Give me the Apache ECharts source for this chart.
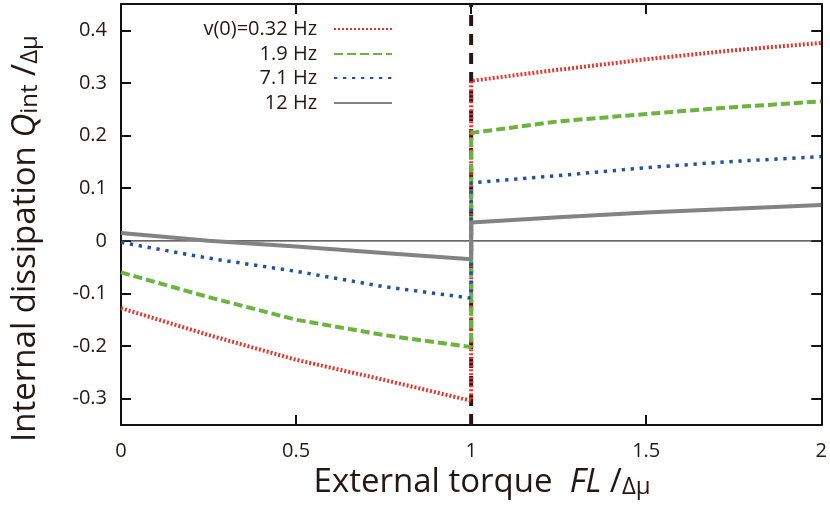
<!DOCTYPE html>
<html>
<head>
<meta charset="utf-8">
<script src="https://cdn.jsdelivr.net/npm/echarts@6/dist/echarts.min.js"></script>
<style>html,body{margin:0;padding:0;background:#fff;}#c{width:830px;height:511px;}</style>
</head>
<body>
<div id="c"></div>
<script>
const seriesNames = ['v(0)=0.32 Hz', '1.9 Hz', '7.1 Hz', '12 Hz'];
const xLeft = [0, 0.25, 0.5, 0.75, 1];
const xRight = [1, 1.25, 1.5, 1.75, 2];
const redLeft = [-0.128, -0.179, -0.226, -0.264, -0.304];
const redRight = [0.304, 0.325, 0.345, 0.362, 0.376];
const greenLeft = [-0.060, -0.107, -0.150, -0.179, -0.202];
const greenRight = [0.205, 0.227, 0.241, 0.254, 0.265];
const blueLeft = [-0.003, -0.033, -0.058, -0.087, -0.109];
const blueRight = [0.110, 0.124, 0.139, 0.151, 0.160];
const grayLeft = [0.015, 0.0, -0.011, -0.023, -0.035];
const grayRight = [0.035, 0.045, 0.054, 0.061, 0.068];
const xTicks = [0, 0.5, 1, 1.5, 2];
const yTicks = [-0.3, -0.2, -0.1, 0, 0.1, 0.2, 0.3, 0.4];
const xRange = [0, 2];
const yRange = [-0.35, 0.45];
const thresholdX = 1;

const FONT = 'Open Sans';
const TXT = '#231815';
function pts(xl, yl, xr, yr) {
  return xl.map((x, i) => [x, yl[i]]).concat(xr.map((x, i) => [x, yr[i]]));
}
const colors = ['#e8352c', '#6cb33f', '#1f52a3', '#838383'];
const styles = [
  {width: 4, type: [2, 2]},
  {width: 4, type: [9, 4]},
  {width: 3.5, type: [3.3, 5.7]},
  {width: 4, type: 'solid'}
];
const dataSets = [
  pts(xLeft, redLeft, xRight, redRight),
  pts(xLeft, greenLeft, xRight, greenRight),
  pts(xLeft, blueLeft, xRight, blueRight),
  pts(xLeft, grayLeft, xRight, grayRight)
];

const axisLineStyle = {onZero: false, lineStyle: {color: '#111', width: 2}};
const tickStyle = {inside: true, length: 10, lineStyle: {color: '#111', width: 2}};

const series = [
  {
    name: 'zero', type: 'line', data: [[xRange[0], 0], [xRange[1], 0]],
    symbol: 'none', silent: true, z: 1,
    lineStyle: {color: '#333', width: 1.2}
  },
  {
    name: 'threshold', type: 'line', data: [[thresholdX, yRange[0]], [thresholdX, yRange[1]]],
    symbol: 'none', silent: true, z: 1,
    lineStyle: {color: '#231815', width: 4, type: [11, 8]}
  }
];
seriesNames.forEach((n, i) => {
  series.push({
    name: n, type: 'line', data: dataSets[i], symbol: 'none', z: 3 + i,
    itemStyle: {color: colors[i]},
    lineStyle: Object.assign({color: colors[i]}, styles[i])
  });
});

const legendRows = [19, 44, 68, 93];
const legends = seriesNames.map((n, i) => ({
  data: [n], right: 437, top: legendRows[i], orient: 'vertical', align: 'right',
  padding: 0, itemWidth: 58, itemHeight: 14, selectedMode: false,
  itemStyle: {color: 'rgba(0,0,0,0)', borderWidth: 0, opacity: 0},
  textStyle: {fontFamily: FONT, fontSize: 20, color: TXT, padding: [0, 12, 0, 0]}
}));

const option = {
  animation: false,
  backgroundColor: '#fff',
  grid: {left: 121, right: 6, top: 4, bottom: 86, containLabel: false},
  legend: legends,
  xAxis: [
    {
      type: 'value', min: xRange[0], max: xRange[1], interval: 0.5,
      position: 'bottom',
      axisLine: axisLineStyle, axisTick: tickStyle, splitLine: {show: false},
      axisLabel: {fontFamily: FONT, fontSize: 20, color: TXT, margin: 16,
        formatter: v => String(v)},
      name: '{a|External torque  }{i|FL}{a| /}{s|Δμ}',
      nameLocation: 'middle', nameGap: 40,
      nameTextStyle: {
        padding: [0, 0, 0, 22],
        rich: {
          a: {fontFamily: FONT, fontSize: 33, color: TXT, lineHeight: 33, verticalAlign: 'middle'},
          i: {fontFamily: FONT, fontSize: 33, fontStyle: 'italic', color: TXT, lineHeight: 33, verticalAlign: 'middle'},
          s: {fontFamily: FONT, fontSize: 24, color: TXT, lineHeight: 24, verticalAlign: 'bottom'}
        }
      }
    },
    {
      type: 'value', min: xRange[0], max: xRange[1], interval: 0.5,
      position: 'top', axisLine: axisLineStyle, axisTick: tickStyle,
      axisLabel: {show: false}, splitLine: {show: false}
    }
  ],
  yAxis: [
    {
      type: 'value', min: yRange[0], max: yRange[1], position: 'left',
      axisLine: axisLineStyle,
      axisTick: Object.assign({customValues: yTicks}, tickStyle),
      splitLine: {show: false},
      axisLabel: {customValues: yTicks, fontFamily: FONT, fontSize: 20, color: TXT, margin: 14,
        formatter: v => String(v)},
      name: '{a|Internal dissipation }{i|Q}{t|int}{a| /}{s|Δμ}',
      nameLocation: 'middle', nameRotate: 90, nameGap: 79,
      nameTextStyle: {
        padding: [0, 48, 0, 0],
        rich: {
          a: {fontFamily: FONT, fontSize: 33, color: TXT, lineHeight: 33, verticalAlign: 'middle'},
          i: {fontFamily: FONT, fontSize: 33, fontStyle: 'italic', color: TXT, lineHeight: 33, verticalAlign: 'middle'},
          t: {fontFamily: FONT, fontSize: 24, color: TXT, lineHeight: 24, verticalAlign: 'bottom'},
          s: {fontFamily: FONT, fontSize: 24, color: TXT, lineHeight: 24, verticalAlign: 'bottom'}
        }
      }
    },
    {
      type: 'value', min: yRange[0], max: yRange[1], position: 'right',
      axisLine: axisLineStyle,
      axisTick: Object.assign({customValues: yTicks}, tickStyle),
      axisLabel: {show: false}, splitLine: {show: false}
    }
  ],
  series: series
};
const chart = echarts.init(document.getElementById('c'), null, {renderer: 'canvas'});
chart.setOption(option);
</script>
</body>
</html>
